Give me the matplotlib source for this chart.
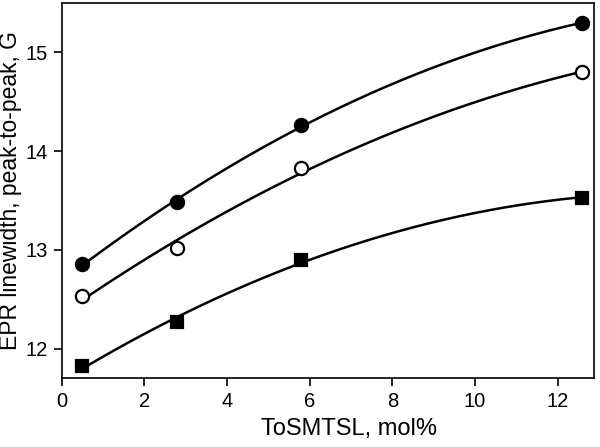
import numpy as np
import matplotlib
matplotlib.use("Agg")
import matplotlib.pyplot as plt

plt.rcParams['font.family'] = ['Liberation Sans', 'DejaVu Sans']

x = [0.5, 2.8, 5.8, 12.6]
filled_circles = [12.86, 13.48, 14.27, 15.30]
open_circles = [12.53, 13.02, 13.83, 14.80]
squares = [11.82, 12.27, 12.90, 13.53]

xticks = [0, 2, 4, 6, 8, 10, 12]
yticks = [12, 13, 14, 15]

fig = plt.figure(figsize=(6, 4.47), dpi=100)
ax = fig.add_axes([0.103, 0.154, 0.887, 0.839])

xs = np.linspace(min(x), max(x), 200)
for ys, marker, mfc, ms in [(filled_circles, 'o', 'black', 9.5),
                            (open_circles, 'o', 'white', 9.5),
                            (squares, 's', 'black', 8.5)]:
    c = np.polyfit(x, ys, 2)
    ax.plot(xs, np.polyval(c, xs), color='black', lw=1.8, zorder=2)
    ax.plot(x, ys, linestyle='none', marker=marker, mfc=mfc, mec='black',
            mew=1.6, ms=ms, zorder=3)

ax.set_xlim(0, 12.88)
ax.set_ylim(11.7, 15.5)
ax.set_xticks(xticks)
ax.set_yticks(yticks)
ax.tick_params(direction='out', length=6, width=1.2, labelsize=14.5, pad=4,
               top=False, right=False)
for s in ax.spines.values():
    s.set_linewidth(1.2)
ax.set_xlabel('ToSMTSL, mol%', fontsize=17)
ax.set_ylabel('EPR linewidth, peak-to-peak, G', fontsize=16.5)
ax.xaxis.set_label_coords(0.54, -0.105)
ax.yaxis.set_label_coords(-0.075, 0.5)

fig.savefig('out.png', dpi=100)
